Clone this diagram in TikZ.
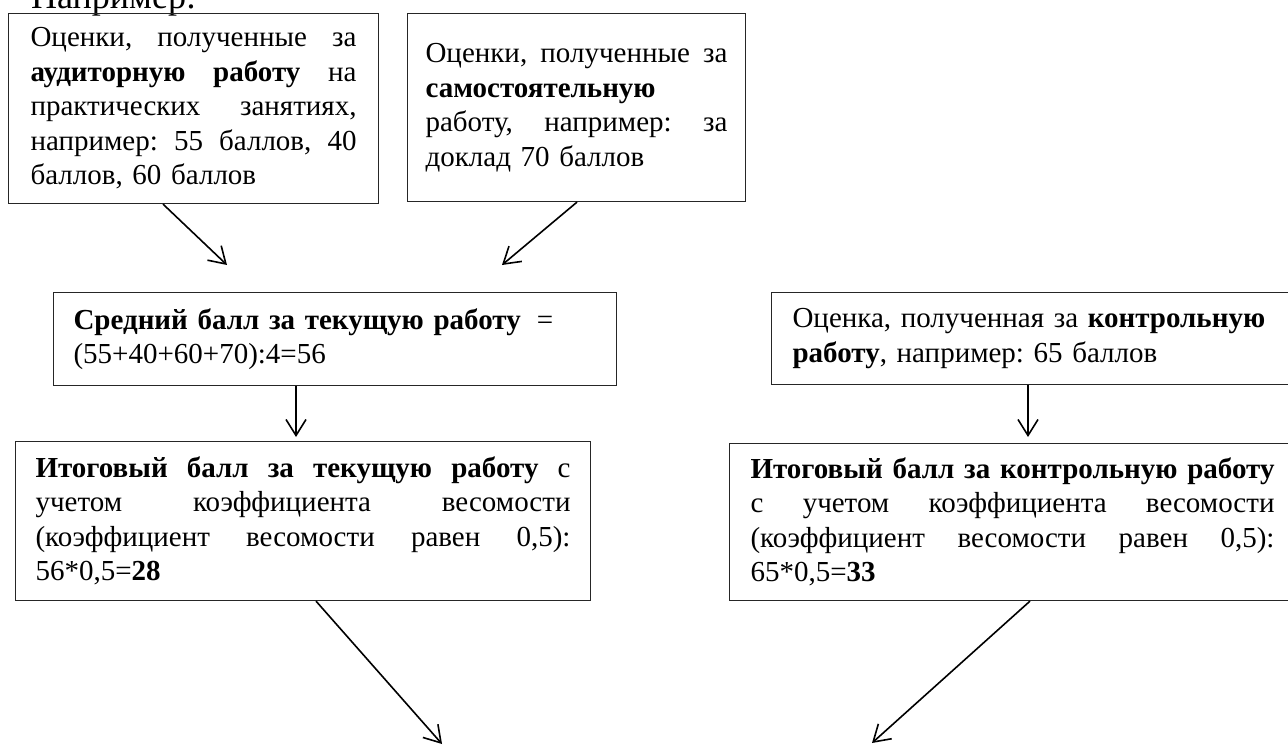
\documentclass[tikz,border=0pt]{standalone}
\usepackage{fontspec}
\setmainfont{Liberation Serif}
\usetikzlibrary{arrows.meta}
\frenchspacing
\newcommand\jline[2]{\leavevmode\hbox to #1{\spaceskip=0.25em plus 1fil\relax\xspaceskip=\spaceskip #2}}
\begin{document}
\begin{tikzpicture}[x=1pt,y=-1pt,
  box/.style={draw=black!85, line width=1.1pt, anchor=north west, inner ysep=0pt, align=left,
    font=\fontsize{29}{34.5}\selectfont},
  arr/.style={line width=1.6pt, -{Straight Barb[length=16pt,width=20pt,line width=1.6pt]}}]
\useasboundingbox (0,0) rectangle (1288,746);

\node[anchor=base west, inner sep=0pt, font=\fontsize{36}{40}\selectfont] (title) at (31,9) {Например:};

\node[box, inner xsep=22pt, text width=326pt, minimum width=370pt, minimum height=190pt] (b1) at (8,13)
 {\jline{326pt}{Оценки, полученные за}\\
  \jline{326pt}{\textbf{аудиторную} \textbf{работу} на}\\
  \jline{326pt}{практических занятиях,}\\
  \jline{326pt}{например: 55 баллов, 40}\\
  баллов, 60 баллов};

\node[box, inner xsep=18pt, text width=302pt, minimum width=338pt, minimum height=188pt] (b2) at (407,13)
 {\jline{302pt}{Оценки, полученные за}\\
  \textbf{самостоятельную}\\
  \jline{302pt}{работу, например: за}\\
  доклад 70 баллов};

\node[box, inner xsep=20pt, text width=523pt, minimum width=563pt, minimum height=93pt] (b3) at (53,292)
 {\textbf{Средний балл за текущую работу}\hspace{16pt}=\\
  (55+40+60+70):4=56};

\node[box, inner xsep=21pt, text width=484pt, minimum width=526pt, minimum height=92pt] (b5) at (771,292)
 {Оценка, полученная за \textbf{контрольную}\\
  \textbf{работу}, например: 65 баллов};

\node[box, inner xsep=20pt, text width=535pt, minimum width=575pt, minimum height=159pt] (b4) at (15,441)
 {\jline{535pt}{\textbf{Итоговый} \textbf{балл} \textbf{за} \textbf{текущую} \textbf{работу} с}\\
  \jline{535pt}{учетом коэффициента весомости}\\
  \jline{535pt}{(коэффициент весомости равен 0,5):}\\
  56*0,5=\textbf{28}};

\node[box, inner xsep=21pt, text width=524pt, minimum width=566pt, minimum height=157pt] (b6) at (729,443)
 {\jline{524pt}{\textbf{Итоговый} \textbf{балл} \textbf{за} \textbf{контрольную} \textbf{работу}}\\
  \jline{524pt}{с учетом коэффициента весомости}\\
  \jline{524pt}{(коэффициент весомости равен 0,5):}\\
  65*0,5=\textbf{33}};

\coordinate (s1) at (163,0);  \coordinate (e1) at (227,265);
\coordinate (s2) at (577,0);  \coordinate (e2) at (502,265);
\coordinate (s3) at (296,0);
\coordinate (s5) at (1028,0);
\coordinate (s4) at (316,0);  \coordinate (e4) at (442,744);
\coordinate (s6) at (1030,0); \coordinate (e6) at (872,743);

\draw[arr] (b1.south -| s1) -- (e1);
\draw[arr] (b2.south -| s2) -- (e2);
\draw[arr, shorten >=4pt] (b3.south -| s3) -- (b4.north -| s3);
\draw[arr, shorten >=6pt] (b5.south -| s5) -- (b6.north -| s5);
\draw[arr] (b4.south -| s4) -- (e4);
\draw[arr] (b6.south -| s6) -- (e6);
\end{tikzpicture}
\end{document}
